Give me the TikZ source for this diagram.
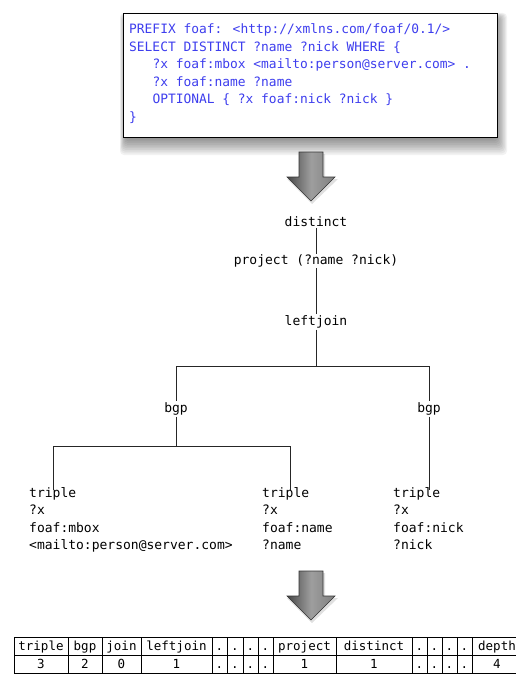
\documentclass[tikz,border=0pt]{standalone}
\usepackage{fontspec}
\newfontfamily\monaco{DejaVu Sans Mono}
\definecolor{sparqlblue}{RGB}{62,62,238}

\begin{document}
\begin{tikzpicture}[x=1pt, y=-1pt, font=\monaco\fontsize{13}{17.6}\selectfont,
    op/.style={inner sep=1pt},
    leaf/.style={inner sep=0pt, anchor=north west, align=left},
    tree/.style={line width=0.8pt, black!85},
    cell/.style={anchor=base, inner sep=0pt, font=\monaco\fontsize{12.5}{15}\selectfont},
    arrowshade/.style={draw=black!80, line width=0.6pt, left color=black!72,
      right color=black!50, middle color=black!38}]
  \useasboundingbox (0,0) rectangle (515,677);

  % query box with soft shadow
  \foreach \i in {1,...,10}
    \fill[black, opacity=0.05, rounded corners=4pt]
      (126-0.6*\i,19-0.6*\i) rectangle (496+1.1*\i,138+1.7*\i);
  \node[draw, line width=1.3pt, fill=white, anchor=north west,
    minimum width=374, minimum height=124] (query) at (123,13) {};
  \node[leaf, text=sparqlblue, font=\monaco\fontsize{12.9}{17.6}\selectfont]
    (querytext) at ([xshift=6, yshift=-10.5]query.north west)
    {PREFIX foaf: <http://xmlns.com/foaf/0.1/>\\
    SELECT DISTINCT ?name ?nick WHERE \{\\
    \phantom{xxx}?x foaf:mbox <mailto:person@server.com> .\\
    \phantom{xxx}?x foaf:name ?name\\
    \phantom{xxx}OPTIONAL \{ ?x foaf:nick ?nick \}\\
    \}};

  % big arrows
  \foreach \y in {152,571} {
    \fill[black, opacity=0.12] (300,\y+2) -- (325,\y+2) -- (325,\y+27) -- (338,\y+27)
      -- (312,\y+52) -- (287,\y+27) -- (300,\y+27) -- cycle;
    \shadedraw[arrowshade] (299,\y) -- (323,\y) -- (323,\y+25) -- (335,\y+25)
      -- (311,\y+49) -- (287,\y+25) -- (299,\y+25) -- cycle;
  }

  % algebra tree
  \node[op] (distinct) at (316,222) {distinct};
  \node[op] (project) at (316,261) {project (?name ?nick)};
  \node[op] (leftjoin) at (316,322) {leftjoin};
  \node[op] (bgpA) at (176,409) {bgp};
  \node[op] (bgpB) at (429,409) {bgp};
  \node[leaf] (tripleA) at (29,487) {triple\\?x\\foaf:mbox\\<mailto:person@server.com>};
  \node[leaf] (tripleB) at (262,487) {triple\\?x\\foaf:name\\?name};
  \node[leaf] (tripleC) at (393,487) {triple\\?x\\foaf:nick\\?nick};
  \coordinate (fork) at (316,366);
  \coordinate (forkA) at (176,446);

  \draw[tree] (distinct) -- (project);
  \draw[tree] (project) -- (leftjoin);
  \draw[tree] (leftjoin) -- (fork) -| (bgpA);
  \draw[tree] (fork) -| (bgpB);
  \draw[tree] (bgpA) -- (forkA) -| ([xshift=24, yshift=-3]tripleA.north west);
  \draw[tree] (forkA) -| ([xshift=28, yshift=-3]tripleB.north west);
  \draw[tree] (bgpB) -- ([xshift=36, yshift=-3]tripleC.north west);

  % counts table
  \draw[line width=0.7pt] (14,637) rectangle (522,673);
  \draw[line width=0.7pt] (14,655) -- (522,655);
  \foreach \l/\r/\h/\v in {14/68/triple/3, 68/102/bgp/2, 102/141/join/0,
      141/212/leftjoin/1, 212/227/./., 227/243/./., 243/258/./., 258/273/./.,
      273/336/project/1, 336/412/distinct/1, 412/427/./., 427/442/./.,
      442/457/./., 457/472/./., 472/522/depth/4} {
    \draw[line width=0.7pt] (\r,637) -- (\r,673);
    \node[cell] (h\l) at ({(\l+\r)/2},650) {\h};
    \node[cell] (v\l) at ({(\l+\r)/2},668) {\v};
  }
\end{tikzpicture}
\end{document}
